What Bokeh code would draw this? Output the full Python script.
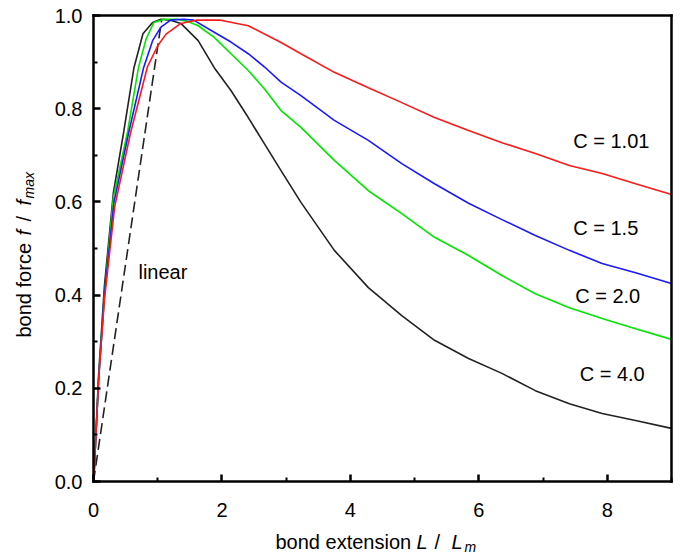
import math
from bokeh.plotting import figure
from bokeh.models import Range1d, FixedTicker, Label, PrintfTickFormatter, LinearAxis
from bokeh.embed import file_html
from bokeh.resources import INLINE

FONT = "Liberation Sans"

# ---- data ----
x_c101 = [0.0, 0.01, 0.08, 0.17, 0.33, 0.58, 0.84, 1.0, 1.13, 1.36, 1.6, 1.98, 2.41, 2.92,
          3.23, 3.75, 4.28, 4.80, 5.31, 5.84, 6.36, 6.88, 7.41, 7.92, 8.44, 9.0]
y_c101 = [0.0, 0.02, 0.22, 0.39, 0.59, 0.75, 0.89, 0.935, 0.96, 0.983, 0.99, 0.99, 0.978, 0.942,
          0.918, 0.878, 0.845, 0.813, 0.781, 0.753, 0.727, 0.704, 0.678, 0.661, 0.639, 0.616]

x_c15 = [0.0, 0.01, 0.08, 0.17, 0.32, 0.55, 0.78, 0.92, 1.05, 1.2, 1.4, 1.56, 1.88, 2.14, 2.41,
         2.66, 2.92, 3.23, 3.75, 4.28, 4.80, 5.31, 5.84, 6.36, 6.88, 7.41, 7.92, 8.44, 9.0]
y_c15 = [0.0, 0.02, 0.22, 0.40, 0.60, 0.75, 0.888, 0.946, 0.975, 0.99, 0.992, 0.99, 0.964, 0.943,
         0.918, 0.89, 0.857, 0.828, 0.775, 0.732, 0.682, 0.639, 0.597, 0.562, 0.528, 0.496, 0.468,
         0.448, 0.425]

x_c20 = [0.0, 0.01, 0.08, 0.17, 0.31, 0.53, 0.70, 0.82, 0.94, 1.1, 1.3, 1.45, 1.63, 1.88, 2.14,
         2.41, 2.66, 2.92, 3.23, 3.75, 4.28, 4.80, 5.31, 5.84, 6.36, 6.88, 7.41, 7.92, 8.44, 9.0]
y_c20 = [0.0, 0.02, 0.22, 0.40, 0.61, 0.75, 0.888, 0.95, 0.985, 0.992, 0.992, 0.988, 0.978, 0.953,
         0.918, 0.882, 0.843, 0.796, 0.76, 0.689, 0.624, 0.575, 0.524, 0.485, 0.442, 0.403, 0.373,
         0.35, 0.328, 0.305]

x_c40 = [0.0, 0.01, 0.08, 0.17, 0.31, 0.47, 0.63, 0.77, 0.92, 1.05, 1.2, 1.36, 1.63, 1.88, 2.14,
         2.41, 2.66, 2.92, 3.23, 3.75, 4.28, 4.80, 5.31, 5.84, 6.36, 6.88, 7.41, 7.92, 8.44, 9.0]
y_c40 = [0.0, 0.02, 0.23, 0.42, 0.62, 0.75, 0.888, 0.961, 0.985, 0.992, 0.99, 0.983, 0.946, 0.888,
         0.839, 0.781, 0.725, 0.667, 0.599, 0.496, 0.416, 0.356, 0.303, 0.264, 0.232, 0.195, 0.167,
         0.146, 0.131, 0.114]

x_linear = [0.0, 1.06]
y_linear = [0.0, 0.99]

x_ticks = [0, 2, 4, 6, 8]
x_minor = [1, 3, 5, 7, 9]
y_ticks = [0.0, 0.2, 0.4, 0.6, 0.8, 1.0]
y_minor = [0.1, 0.3, 0.5, 0.7, 0.9]

X_MIN, X_MAX = 0.0, 9.0
Y_MIN, Y_MAX = 0.0, 1.0

# ---- figure: frame spans the whole canvas, axes are pinned at the data box ----
W, H = 680, 557
BOX_L, BOX_R, BOX_T, BOX_B = 93, 671, 15, 481
sx = (BOX_R - BOX_L) / (X_MAX - X_MIN)
sy = (BOX_B - BOX_T) / (Y_MAX - Y_MIN)
x_range = Range1d(X_MIN - BOX_L / sx, X_MAX + (W - BOX_R) / sx)
y_range = Range1d(Y_MIN - (H - BOX_B) / sy, Y_MAX + BOX_T / sy)

p = figure(width=W, height=H, output_backend="svg", toolbar_location=None,
           x_range=x_range, y_range=y_range, min_border=0)
p.xgrid.visible = False
p.ygrid.visible = False
p.outline_line_color = None
p.background_fill_color = "white"
p.border_fill_color = "white"


def style_axis(ax):
    ax.axis_line_width = 2.5
    ax.axis_line_color = "black"
    ax.axis_line_cap = "square"
    ax.major_tick_in = 7
    ax.major_tick_out = 0
    ax.minor_tick_in = 4
    ax.minor_tick_out = 0
    ax.major_tick_line_width = 2.5
    ax.minor_tick_line_width = 2
    ax.major_tick_line_color = "black"
    ax.minor_tick_line_color = "black"
    ax.major_label_text_font = FONT
    ax.major_label_text_font_size = "20px"
    ax.major_label_text_color = "black"


xa = p.xaxis[0]
ya = p.yaxis[0]
style_axis(xa)
style_axis(ya)
xa.fixed_location = Y_MIN
xa.bounds = (X_MIN, X_MAX)
ya.fixed_location = X_MIN
ya.bounds = (Y_MIN, Y_MAX)
xa.ticker = FixedTicker(ticks=x_ticks, minor_ticks=x_minor)
ya.ticker = FixedTicker(ticks=y_ticks, minor_ticks=y_minor)
ya.formatter = PrintfTickFormatter(format="%.1f")
xa.major_label_standoff = 21
ya.major_label_standoff = 11

# top and right edges of the box
top = LinearAxis(fixed_location=Y_MAX, bounds=(X_MIN, X_MAX), ticker=FixedTicker(ticks=[]),
                 axis_line_width=2.5, axis_line_cap="square", major_label_text_font_size="0px")
right = LinearAxis(fixed_location=X_MAX, bounds=(Y_MIN, Y_MAX), ticker=FixedTicker(ticks=[]),
                   axis_line_width=2.5, axis_line_cap="square", major_label_text_font_size="0px")
p.add_layout(top, "above")
p.add_layout(right, "right")

# ---- curves ----
p.line(x_linear, y_linear, line_color="#222222", line_width=1.6, line_dash="11 5")
p.line(x_c40, y_c40, line_color="#222222", line_width=1.6)
p.line(x_c20, y_c20, line_color="#00e600", line_width=1.6)
p.line(x_c15, y_c15, line_color="#1a1aff", line_width=1.6)
p.line(x_c101, y_c101, line_color="#ff1a1a", line_width=1.6)


# ---- annotations ----
def lab(x, y, text, size="20px", style="normal", angle=0.0, align="left", baseline="middle"):
    p.add_layout(Label(x=x, y=y, text=text, text_font=FONT, text_font_size=size,
                       text_font_style=style, angle=angle, text_align=align,
                       text_baseline=baseline, text_color="black"))


def px_x(px):
    return X_MIN + (px - BOX_L) / sx


def px_y(py):
    return Y_MIN + (BOX_B - py) / sy


lab(7.47, 0.73, "C = 1.01")
lab(7.47, 0.543, "C = 1.5")
lab(7.50, 0.397, "C = 2.0")
lab(7.57, 0.23, "C = 4.0")
lab(0.70, 0.449, "linear")

# x-axis title: bond extension L / L_m
lab(px_x(275), px_y(541), "bond extension", baseline="alphabetic")
lab(px_x(416), px_y(541), "L", style="italic", baseline="alphabetic")
lab(px_x(434), px_y(541), "/", baseline="alphabetic")
lab(px_x(451), px_y(541), "L", style="italic", baseline="alphabetic")
lab(px_x(464), px_y(546), "m", size="14px", style="italic", baseline="alphabetic")

# y-axis title: bond force f / f_max
a = math.pi / 2
lab(px_x(23), px_y(337), "bond force", angle=a, baseline="alphabetic")
lab(px_x(23), px_y(235), "f", style="italic", angle=a, baseline="alphabetic")
lab(px_x(23), px_y(221), "/", angle=a, baseline="alphabetic")
lab(px_x(23), px_y(205), "f", style="italic", angle=a, baseline="alphabetic")
lab(px_x(28), px_y(198), "max", size="14px", style="italic", angle=a, baseline="alphabetic")

open("out.html", "w").write(file_html(p, INLINE))
